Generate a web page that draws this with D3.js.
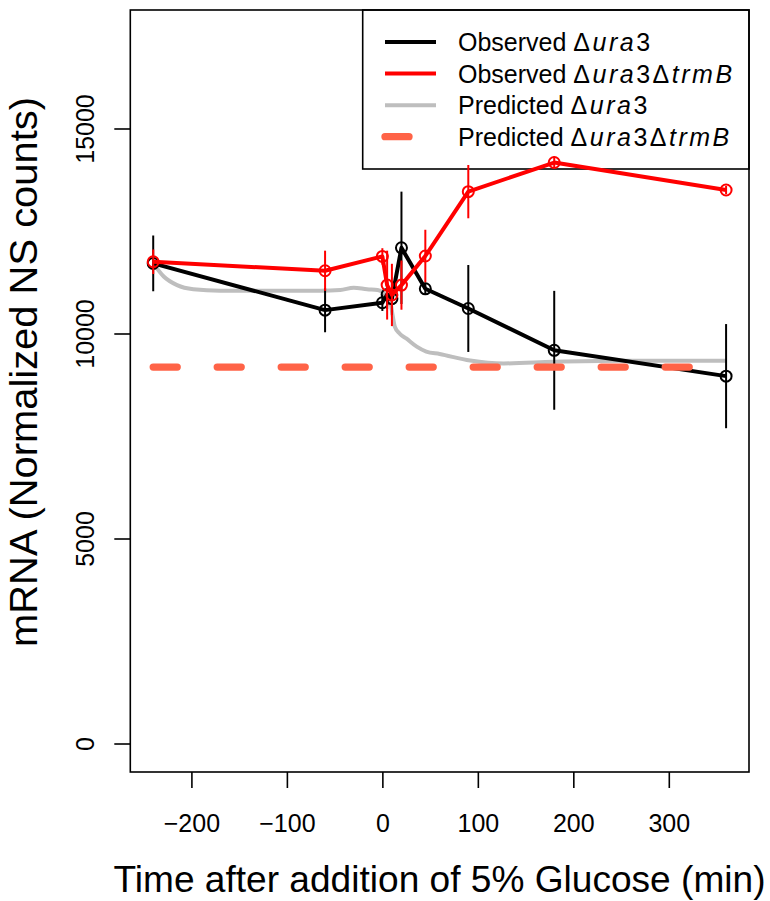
<!DOCTYPE html>
<html>
<head>
<meta charset="utf-8">
<script src="https://cdn.jsdelivr.net/npm/d3@7"></script>
<style>
  body { margin: 0; background: #fff; }
  svg text { font-family: "Liberation Sans", Arial, Helvetica, sans-serif; fill: #000; }
</style>
</head>
<body>
<svg id="chart" width="770" height="901"></svg>
<script>
// observed time course (min after glucose addition)
const times = [-240, -60, 0, 5, 10, 20, 45, 90, 180, 360];
const ura3Obs = [11710, 10570, 10750, 10950, 10850, 12090, 11090, 10610, 9590, 8960];
const ura3Err = [680, 540, 200, 350, 400, 1370, 150, 1060, 1450, 1270];
const trmbObs = [11750, 11530, 11880, 11180, 10940, 11180, 11890, 13460, 14170, 13500];
const trmbErr = [300, 490, 200, 840, 760, 600, 640, 650, 150, 100];

// model predictions
const predTime = [-240, -229, -215, -198, -170, -100, -65, -44, -30, -16, -5, 1, 5, 8,
  11, 13, 18, 25, 36, 46, 60, 92, 127, 179, 249, 360];
const predUra3 = [11710, 11390, 11180, 11080, 11044, 11044, 11044, 11060, 11117, 11078,
  11060, 11000, 10940, 10820, 10410, 10170, 10000, 9880, 9680, 9560, 9500, 9340, 9270,
  9310, 9337, 9337];
const predTrmbTime = [-240, 360];
const predTrmb = [9180, 9180];

const xTicks = [-200, -100, 0, 100, 200, 300];
const yTicks = [0, 5000, 10000, 15000];

const legendItems = [
  {label: 'Observed ', math: ['\u0394', 'ura', '3'], color: '#000', width: 4},
  {label: 'Observed ', math: ['\u0394', 'ura', '3', '\u0394', 'trmB'], color: '#ff0000', width: 4},
  {label: 'Predicted ', math: ['\u0394', 'ura', '3'], color: '#bebebe', width: 4},
  {label: 'Predicted ', math: ['\u0394', 'ura', '3', '\u0394', 'trmB'], color: '#ff6347', width: 7.3, dash: '24 40'},
];

const svg = d3.select('#chart');
const x = d3.scaleLinear().domain([-264, 384]).range([130.3, 749]);
const y = d3.scaleLinear().domain([-695, 17890]).range([772, 10]);

// legend goes first, the data is drawn over it
const legend = svg.append('g');
legend.append('rect')
  .attr('x', 362.7).attr('y', 10)
  .attr('width', 749 - 362.7).attr('height', 159)
  .attr('fill', 'none')
  .attr('stroke', '#000')
  .attr('stroke-width', 1.6);
const rowY = d3.scaleLinear().domain([0, 3]).range([42, 136.7]);
legendItems.forEach((item, i) => {
  const cy = rowY(i);
  legend.append('line')
    .attr('x1', 385).attr('x2', 436)
    .attr('y1', cy).attr('y2', cy)
    .attr('stroke', item.color)
    .attr('stroke-width', item.width)
    .attr('stroke-linecap', item.dash ? 'round' : 'butt')
    .attr('stroke-dasharray', item.dash || null);
  const t = legend.append('text')
    .attr('x', 458).attr('y', cy + 9)
    .style('font-size', '25px');
  t.append('tspan').text(item.label);
  item.math.forEach(m => {
    t.append('tspan')
      .style('font-style', /^[a-zA-Z]+$/.test(m) ? 'italic' : 'normal')
      .style('letter-spacing', '2.5px')
      .text(m);
  });
});

const plot = svg.append('g');

// predicted dura3 (smooth grey curve)
plot.append('path')
  .datum(predTime.map((t, i) => [t, predUra3[i]]))
  .attr('fill', 'none')
  .attr('stroke', '#bebebe')
  .attr('stroke-width', 4)
  .attr('d', d3.line().x(d => x(d[0])).y(d => y(d[1])).curve(d3.curveMonotoneX));

function drawObserved(values, errs, color) {
  const pts = times.map((t, i) => ({t, v: values[i], e: errs[i]}));
  const g = plot.append('g');
  g.append('path')
    .datum(pts)
    .attr('fill', 'none')
    .attr('stroke', color)
    .attr('stroke-width', 4)
    .attr('stroke-linejoin', 'round')
    .attr('d', d3.line().x(d => x(d.t)).y(d => y(d.v)));
  g.selectAll('line.err').data(pts).join('line')
    .attr('class', 'err')
    .attr('x1', d => x(d.t)).attr('x2', d => x(d.t))
    .attr('y1', d => y(d.v - d.e)).attr('y2', d => y(d.v + d.e))
    .attr('stroke', color)
    .attr('stroke-width', 2);
  g.selectAll('circle').data(pts).join('circle')
    .attr('cx', d => x(d.t))
    .attr('cy', d => y(d.v))
    .attr('r', 5.5)
    .attr('fill', 'none')
    .attr('stroke', color)
    .attr('stroke-width', 2);
}
drawObserved(ura3Obs, ura3Err, '#000');
drawObserved(trmbObs, trmbErr, '#ff0000');

// predicted dura3 dtrmB (flat dashed line)
plot.append('path')
  .datum(predTrmbTime.map((t, i) => [t, predTrmb[i]]))
  .attr('fill', 'none')
  .attr('stroke', '#ff6347')
  .attr('stroke-width', 7.3)
  .attr('stroke-linecap', 'round')
  .attr('stroke-dasharray', '24 40')
  .attr('d', d3.line().x(d => x(d[0])).y(d => y(d[1])));

// axes
const xAxis = svg.append('g')
  .attr('transform', `translate(0,${y.range()[0]})`)
  .call(d3.axisBottom(x).tickValues(xTicks).tickSize(16).tickPadding(26)
    .tickFormat(d => d < 0 ? '\u2212' + Math.abs(d) : d));
const yAxis = svg.append('g')
  .attr('transform', `translate(${x.range()[0]},0)`)
  .call(d3.axisLeft(y).tickValues(yTicks).tickSize(16).tickFormat(d => d));
[xAxis, yAxis].forEach(a => {
  a.select('.domain').remove();
  a.attr('font-family', null).attr('font-size', null);
  a.selectAll('line').attr('stroke', '#000').attr('stroke-width', 1.6);
  a.selectAll('text').style('font-size', '25px');
});
yAxis.selectAll('text')
  .attr('x', null).attr('dy', null)
  .attr('text-anchor', 'middle')
  .attr('transform', 'translate(-36.5,0) rotate(-90)');

// plot box
svg.append('rect')
  .attr('x', x.range()[0]).attr('y', y.range()[1])
  .attr('width', x.range()[1] - x.range()[0])
  .attr('height', y.range()[0] - y.range()[1])
  .attr('fill', 'none')
  .attr('stroke', '#000')
  .attr('stroke-width', 1.6);

// axis titles
svg.append('text')
  .attr('x', 439.5).attr('y', 892)
  .attr('text-anchor', 'middle')
  .style('font-size', '37px')
  .attr('textLength', 652)
  .attr('lengthAdjust', 'spacingAndGlyphs')
  .text('Time after addition of 5% Glucose (min)');
svg.append('text')
  .attr('transform', 'translate(37,372) rotate(-90)')
  .attr('text-anchor', 'middle')
  .style('font-size', '38px')
  .attr('textLength', 550)
  .attr('lengthAdjust', 'spacingAndGlyphs')
  .text('mRNA (Normalized NS counts)');
</script>
</body>
</html>
